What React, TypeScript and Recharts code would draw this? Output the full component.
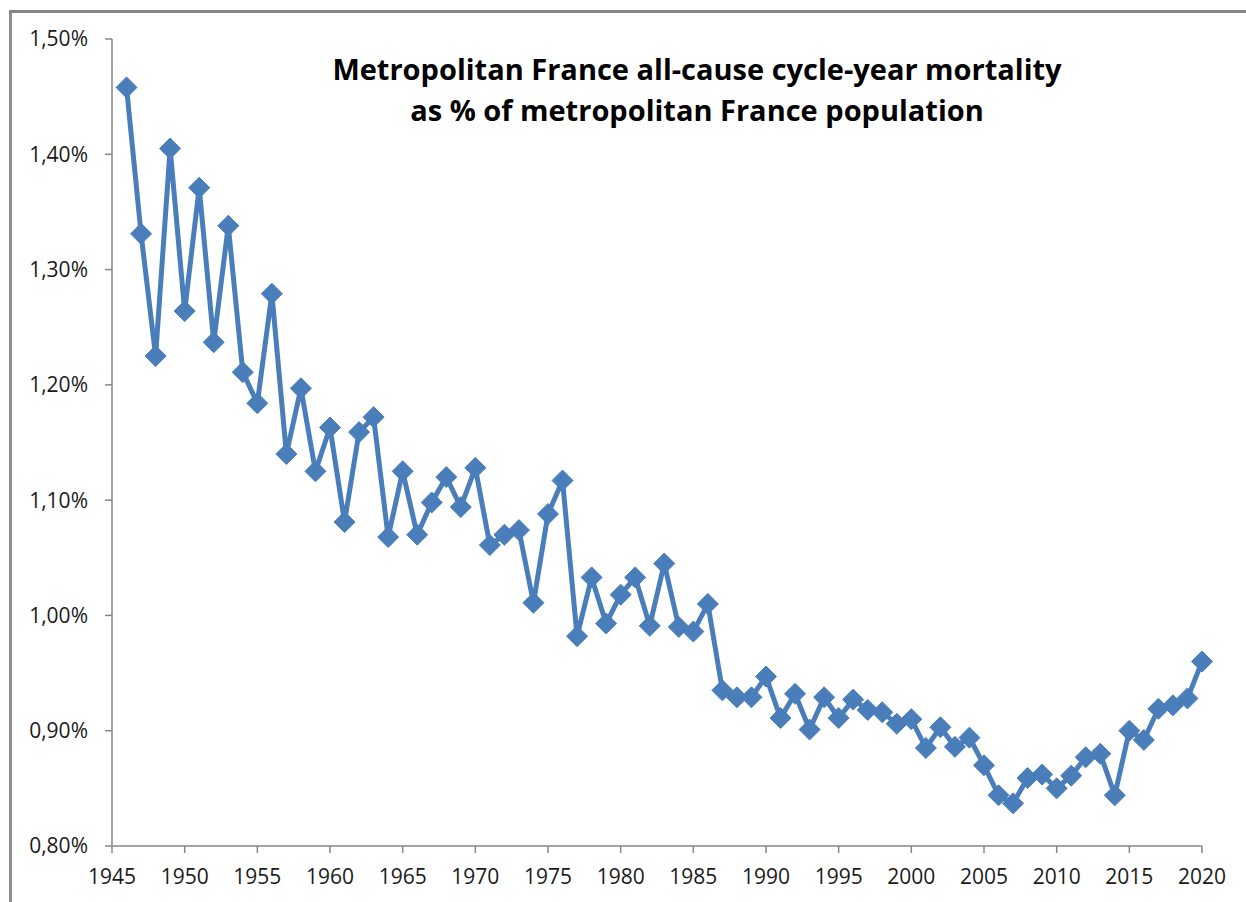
import React from "react";
import { Line, LineChart, XAxis, YAxis } from "recharts";

const years = [
  1946, 1947, 1948, 1949, 1950, 1951, 1952, 1953, 1954, 1955, 1956, 1957, 1958, 1959, 1960,
  1961, 1962, 1963, 1964, 1965, 1966, 1967, 1968, 1969, 1970, 1971, 1972, 1973, 1974, 1975,
  1976, 1977, 1978, 1979, 1980, 1981, 1982, 1983, 1984, 1985, 1986, 1987, 1988, 1989, 1990,
  1991, 1992, 1993, 1994, 1995, 1996, 1997, 1998, 1999, 2000, 2001, 2002, 2003, 2004, 2005,
  2006, 2007, 2008, 2009, 2010, 2011, 2012, 2013, 2014, 2015, 2016, 2017, 2018, 2019, 2020,
];

// mortality in % of population
const mortality = [
  1.458, 1.331, 1.225, 1.405, 1.264, 1.371, 1.237, 1.338, 1.211, 1.184, 1.279, 1.140, 1.197, 1.125, 1.163,
  1.081, 1.159, 1.172, 1.068, 1.125, 1.070, 1.098, 1.120, 1.094, 1.128, 1.061, 1.070, 1.074, 1.011, 1.088,
  1.117, 0.982, 1.033, 0.993, 1.018, 1.033, 0.991, 1.045, 0.990, 0.986, 1.010, 0.935, 0.929, 0.929, 0.947,
  0.911, 0.932, 0.901, 0.929, 0.911, 0.927, 0.918, 0.916, 0.906, 0.910, 0.885, 0.903, 0.886, 0.894, 0.870,
  0.844, 0.837, 0.859, 0.862, 0.850, 0.861, 0.877, 0.880, 0.844, 0.900, 0.892, 0.919, 0.922, 0.928, 0.960,
];

const xTicks = [1945, 1950, 1955, 1960, 1965, 1970, 1975, 1980, 1985, 1990, 1995, 2000, 2005, 2010, 2015, 2020];
const yTicks = [0.8, 0.9, 1.0, 1.1, 1.2, 1.3, 1.4, 1.5];

const titleLines = [
  "Metropolitan France all-cause cycle-year mortality",
  "as % of metropolitan France population",
];

const data = years.map((year, i) => ({ year, v: mortality[i] }));

const BLUE = "#4a7ebb";
const AXIS = "#868686";
const FONT = "'Open Sans', sans-serif";
const tickStyle = { fill: "#1a1a1a", fontSize: 21, fontFamily: FONT };

function Diamond(props: any) {
  const { cx, cy, index } = props;
  if (cx == null || cy == null) return null;
  const r = 10.5;
  const pts = `${cx},${cy - r} ${cx + r},${cy} ${cx},${cy + r} ${cx - r},${cy}`;
  return <polygon key={index} points={pts} fill={BLUE} stroke={BLUE} strokeWidth={1} />;
}

export default function App() {
  return (
    <div
      style={{
        position: "absolute",
        left: 0,
        top: 0,
        width: 1246,
        height: 902,
        background: "#fff",
        overflow: "hidden",
      }}
    >
      <div
        style={{
          position: "absolute",
          left: 9,
          top: 10,
          width: 1246,
          height: 902,
          borderTop: `3px solid ${AXIS}`,
          borderLeft: `3px solid #8c8c8c`,
        }}
      />
      <LineChart width={1246} height={902} data={data} margin={{ top: 39, right: 44, bottom: 6, left: 0 }}>
        <XAxis
          dataKey="year"
          type="number"
          domain={[1945, 2020]}
          ticks={xTicks}
          interval={0}
          stroke={AXIS}
          strokeWidth={1.5}
          tickSize={7}
          tickMargin={16}
          height={50}
          tick={tickStyle}
          tickLine={{ stroke: AXIS }}
        />
        <YAxis
          type="number"
          domain={[0.8, 1.5]}
          ticks={yTicks}
          interval={0}
          width={112}
          stroke={AXIS}
          strokeWidth={1.5}
          tickSize={7}
          tickMargin={17}
          tick={tickStyle}
          tickLine={{ stroke: AXIS }}
          tickFormatter={(v: number) => v.toFixed(2).replace(".", ",") + "%"}
        />
        <Line
          dataKey="v"
          type="linear"
          stroke={BLUE}
          strokeWidth={5}
          dot={<Diamond />}
          activeDot={false}
          isAnimationActive={false}
        />
      </LineChart>
      {titleLines.map((t, i) => (
        <div
          key={i}
          style={{
            position: "absolute",
            left: 697,
            top: i === 0 ? 51 : 92,
            transform: "translateX(-50%)",
            whiteSpace: "nowrap",
            fontFamily: FONT,
            fontWeight: 700,
            fontSize: 29,
            lineHeight: "36px",
            color: "#000",
          }}
        >
          {t}
        </div>
      ))}
    </div>
  );
}
